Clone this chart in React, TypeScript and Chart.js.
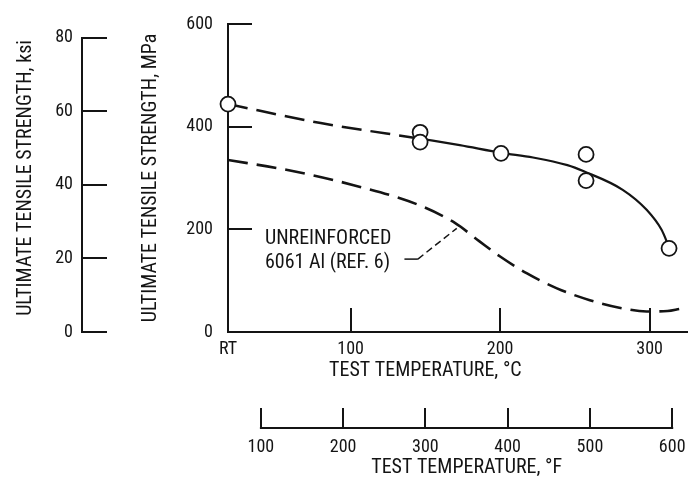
import React, { useEffect, useRef } from 'react';
import { Chart, registerables } from 'chart.js';

Chart.register(...registerables);

const FONT = '"Roboto Condensed", "DejaVu Sans Condensed", sans-serif';
const INK = '#141414';

// Composite data (temperature in deg C, strength in MPa)
const compositeDashedT = [18, 80, 146];
const compositeDashedS = [444, 407, 377];
const compositeSolidT = [146, 173, 201, 222, 245, 256, 282, 298, 308, 313];
const compositeSolidS = [377, 364, 349, 340, 325, 313, 277, 238, 199, 165];

// Test points
const testT = [18, 146.5, 146.5, 200.6, 257.5, 257.5, 313];
const testS = [444, 389, 370, 348, 346, 295, 163];

// Unreinforced 6061 Al (Ref. 6)
const unreinforcedT = [18, 57, 102, 146, 170, 186, 200, 218, 238, 260, 282, 298, 312, 320];
const unreinforcedS = [335, 316, 286, 247, 212, 177, 147, 114, 85, 62, 46, 40, 41, 45];

// Leader line for the note
const leaderT = [136, 145, 171];
const leaderS = [142, 142, 202];
const noteLines = ['UNREINFORCED', '6061 Al (REF. 6)'];
const noteT = 42.7;
const noteS = [181, 134];

// Axis ticks
const mpaTicks = [0, 200, 400, 600];
const ksiTicks = [0, 20, 40, 60, 80];
const cTicks = [18, 100, 200, 300];
const cLabels = ['RT', '100', '200', '300'];
const fTicks = [100, 200, 300, 400, 500, 600];

const toXY = (xs: number[], ys: number[]) => xs.map((x, i) => ({ x, y: ys[i] }));

export default function App() {
  const ref = useRef<HTMLCanvasElement>(null);

  useEffect(() => {
    const canvas = ref.current;
    if (!canvas) return;
    const fix = (vals: number[]) => (scale: any) => {
      scale.ticks = vals.map((v) => ({ value: v }));
    };
    const size = (w: number | null, h: number | null) => (s: any) => {
      if (w !== null) s.width = w;
      if (h !== null) s.height = h;
      s.paddingLeft = 0;
      s.paddingRight = 0;
      s.paddingTop = 0;
      s.paddingBottom = 0;
    };
    const overlay = {
      id: 'overlay',
      afterDraw(chart: any) {
        const ctx = chart.ctx;
        const ks = chart.scales.ksi;
        const fs = chart.scales.xF;
        const xs = chart.scales.x;
        const ys = chart.scales.y;
        ctx.save();
        ctx.strokeStyle = INK;
        ctx.lineWidth = 2;
        ctx.beginPath();
        ctx.moveTo(ks.right, ks.getPixelForValue(ksiTicks[0]) + 1);
        ctx.lineTo(ks.right, ks.getPixelForValue(ksiTicks[ksiTicks.length - 1]) - 1);
        ctx.moveTo(fs.getPixelForValue(fTicks[0]) - 1, fs.top);
        ctx.lineTo(fs.getPixelForValue(fTicks[fTicks.length - 1]) + 1, fs.top);
        ctx.stroke();
        ctx.fillStyle = INK;
        ctx.font = `20px ${FONT}`;
        ctx.textBaseline = 'middle';
        ctx.textAlign = 'left';
        noteLines.forEach((t, i) => {
          ctx.fillText(t, xs.getPixelForValue(noteT), ys.getPixelForValue(noteS[i]));
        });
        ctx.restore();
      },
    };

    const tickFont = { family: FONT, size: 18 };
    const titleFont = { family: FONT, size: 20 };
    const axes = { xAxisID: 'x', yAxisID: 'y' };

    const chart = new Chart(canvas, {
      type: 'scatter',
      data: {
        datasets: [
          {
            ...axes,
            data: toXY(testT, testS),
            showLine: false,
            pointRadius: 7.5,
            pointBorderWidth: 1.8,
            pointBorderColor: INK,
            pointBackgroundColor: '#ffffff',
            clip: false,
            order: 0,
          } as any,
          {
            ...axes,
            data: toXY(compositeSolidT, compositeSolidS),
            showLine: true,
            pointRadius: 0,
            borderColor: INK,
            borderWidth: 2.2,
            cubicInterpolationMode: 'monotone',
            order: 1,
          },
          {
            ...axes,
            data: toXY(compositeDashedT, compositeDashedS),
            showLine: true,
            pointRadius: 0,
            borderColor: INK,
            borderWidth: 2.5,
            borderDash: [20, 9],
            cubicInterpolationMode: 'monotone',
            order: 2,
          },
          {
            ...axes,
            data: toXY(unreinforcedT, unreinforcedS),
            showLine: true,
            pointRadius: 0,
            borderColor: INK,
            borderWidth: 2.6,
            borderDash: [20, 9],
            cubicInterpolationMode: 'monotone',
            order: 3,
          },
          {
            ...axes,
            data: toXY(leaderT, leaderS),
            showLine: true,
            pointRadius: 0,
            borderColor: INK,
            borderWidth: 1.5,
            tension: 0,
            segment: {
              borderDash: (c: any) => (c.p0DataIndex === 1 ? [7, 4] : undefined),
            },
            order: 4,
          } as any,
        ],
      },
      options: {
        animation: false,
        responsive: false,
        devicePixelRatio: 1,
        events: [],
        layout: { autoPadding: false, padding: { top: 24, right: 2, bottom: 0, left: 0 } },
        plugins: { legend: { display: false }, tooltip: { enabled: false } },
        scales: {
          x: {
            type: 'linear',
            position: 'bottom',
            weight: 0,
            min: 18,
            max: 325,
            afterBuildTicks: fix(cTicks),
            afterFit: size(null, 96),
            border: { display: true, color: INK, width: 2 },
            grid: { drawOnChartArea: false, tickLength: -24, color: INK, lineWidth: 2 },
            ticks: {
              padding: 31,
              color: INK,
              font: tickFont,
              autoSkip: false,
              maxRotation: 0,
              callback: (v: any) => {
                const i = cTicks.indexOf(Number(v));
                return i >= 0 ? cLabels[i] : String(v);
              },
            },
            title: {
              display: true,
              text: 'TEST TEMPERATURE, \u00B0C' + '              ',
              color: INK,
              font: titleFont,
              padding: { top: 0, bottom: 45 },
            },
          },
          y: {
            type: 'linear',
            position: 'left',
            weight: 0,
            min: 0,
            max: 600,
            afterBuildTicks: fix(mpaTicks),
            afterFit: size(146, null),
            border: { display: true, color: INK, width: 2 },
            grid: { drawOnChartArea: false, tickLength: -24, color: INK, lineWidth: 2 },
            ticks: { padding: 39, color: INK, font: tickFont },
            title: {
              display: true,
              text: 'ULTIMATE TENSILE STRENGTH, MPa',
              color: INK,
              font: titleFont,
              padding: { top: 57, bottom: 0 },
            },
          },
          ksi: {
            type: 'linear',
            position: 'left',
            weight: 1,
            min: 0,
            max: 83.8,
            afterBuildTicks: fix(ksiTicks),
            afterFit: size(82, null),
            border: { display: false },
            grid: { drawOnChartArea: false, tickLength: -25, color: INK, lineWidth: 2 },
            ticks: { padding: 34, color: INK, font: tickFont },
            title: {
              display: true,
              text: 'ULTIMATE TENSILE STRENGTH, ksi',
              color: INK,
              font: titleFont,
              padding: { top: 14, bottom: 0 },
            },
          },
          xF: {
            type: 'linear',
            position: 'bottom',
            weight: 1,
            min: 60,
            max: 618,
            afterBuildTicks: fix(fTicks),
            afterFit: size(null, 55),
            border: { display: false },
            grid: { drawOnChartArea: false, tickLength: -20, color: INK, lineWidth: 2 },
            ticks: { padding: 29, color: INK, font: tickFont, autoSkip: false, maxRotation: 0 },
            title: {
              display: true,
              text: '    TEST TEMPERATURE, \u00B0F',
              color: INK,
              font: titleFont,
              padding: { top: 0, bottom: 3 },
            },
          },
        },
      } as any,
      plugins: [overlay],
    });

    return () => chart.destroy();
  }, []);

  return (
    <div style={{ position: 'absolute', left: 0, top: 0, width: 689, height: 483, background: '#ffffff' }}>
      <canvas ref={ref} width={689} height={483} style={{ display: 'block', width: 689, height: 483 }} />
    </div>
  );
}
